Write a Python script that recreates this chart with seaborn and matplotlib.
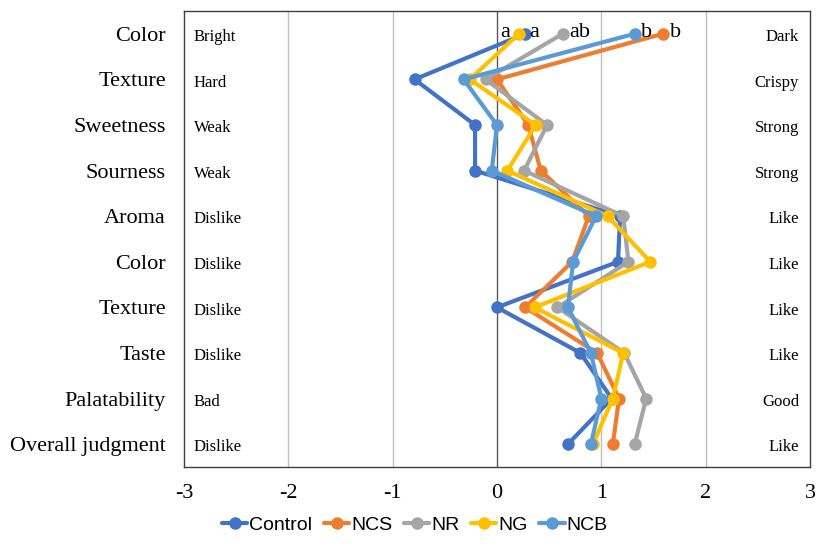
import pandas as pd
import matplotlib.pyplot as plt
import seaborn as sns

# attributes (top to bottom) and anchor words
attributes = ['Color', 'Texture', 'Sweetness', 'Sourness', 'Aroma', 'Color',
              'Texture', 'Taste', 'Palatability', 'Overall judgment']
left_words = ['Bright', 'Hard', 'Weak', 'Weak', 'Dislike', 'Dislike',
              'Dislike', 'Dislike', 'Bad', 'Dislike']
right_words = ['Dark', 'Crispy', 'Strong', 'Strong', 'Like', 'Like',
               'Like', 'Like', 'Good', 'Like']

# mean scores per sample
control = [0.27, -0.79, -0.21, -0.21, 1.18, 1.16, 0.00, 0.80, 1.10, 0.68]
ncs = [1.59, 0.00, 0.30, 0.42, 0.88, 0.72, 0.27, 0.96, 1.17, 1.11]
nr = [0.63, -0.11, 0.48, 0.26, 1.21, 1.26, 0.58, 1.22, 1.43, 1.32]
ng = [0.21, -0.26, 0.37, 0.10, 1.06, 1.47, 0.36, 1.21, 1.11, 0.92]
ncb = [1.32, -0.32, 0.00, -0.05, 0.95, 0.73, 0.68, 0.90, 1.00, 0.90]

samples = ['Control', 'NCS', 'NR', 'NG', 'NCB']
colors = ['#4472C4', '#ED7D31', '#A5A5A5', '#FFC000', '#5B9BD5']
# significance letters for the first attribute (Color)
letters = ['a', 'b', 'ab', 'a', 'b']

rows = list(range(len(attributes)))
df = pd.DataFrame({
    'row': rows * 5,
    'score': control + ncs + nr + ng + ncb,
    'sample': [s for s in samples for _ in rows],
})

sns.set_style('white')
plt.rcParams['text.color'] = 'black'
plt.rcParams['xtick.color'] = 'black'
plt.rcParams['ytick.color'] = 'black'
serif = ['Liberation Serif', 'DejaVu Serif']

fig = plt.figure(figsize=(8.31, 5.49), dpi=100)
ax = fig.add_axes([0.2214, 0.1494, 0.7533, 0.8306])

sns.lineplot(data=df, x='score', y='row', hue='sample', hue_order=samples,
             palette=colors, orient='y', sort=False, estimator=None,
             marker='o', markersize=9, markeredgewidth=0, linewidth=3,
             ax=ax, legend=True)

ax.set_xlim(-3, 3)
ax.set_ylim(9.5, -0.5)
ax.set_xticks([-3, -2, -1, 0, 1, 2, 3])
ax.set_xticklabels(['-3', '-2', '-1', '0', '1', '2', '3'], family=serif, fontsize=16)
ax.set_yticks(rows)
ax.set_yticklabels(attributes, family=serif, fontsize=16)
ax.tick_params(axis='both', length=0)
ax.tick_params(axis='x', pad=12)
ax.tick_params(axis='y', pad=13)
ax.set_xlabel('')
ax.set_ylabel('')

for v in [-2, -1, 1, 2]:
    ax.axvline(v, color='#BFBFBF', lw=1, zorder=0)
ax.axvline(0, color='#595959', lw=1, zorder=0)
for sp in ax.spines.values():
    sp.set_color('#404040')
    sp.set_linewidth(1)

for r in rows:
    ax.text(-2.904, r + 0.07, left_words[r], ha='left', va='center',
            family=serif, fontsize=12)
    ax.text(2.895, r + 0.07, right_words[r], ha='right', va='center',
            family=serif, fontsize=12)

offsets = {'Control': 9, 'NCS': 13, 'NR': 17, 'NG': -14, 'NCB': 12}
firsts = {'Control': control[0], 'NCS': ncs[0], 'NR': nr[0], 'NG': ng[0], 'NCB': ncb[0]}
for s, lab in zip(samples, letters):
    ax.annotate(lab, (firsts[s], 0), xytext=(offsets[s], 1),
                textcoords='offset pixels', ha='center', va='center',
                family=serif, fontsize=16)

handles, labels = ax.get_legend_handles_labels()
ax.get_legend().remove()
fig.legend(handles, labels, loc='center', bbox_to_anchor=(415 / 831, 1 - 525 / 549),
           ncol=5, frameon=False, handlelength=1.3, handletextpad=0.1,
           columnspacing=0.6,
           prop={'family': ['Liberation Sans Narrow', 'Liberation Sans'], 'size': 14})

fig.savefig('out.png', dpi=100)
